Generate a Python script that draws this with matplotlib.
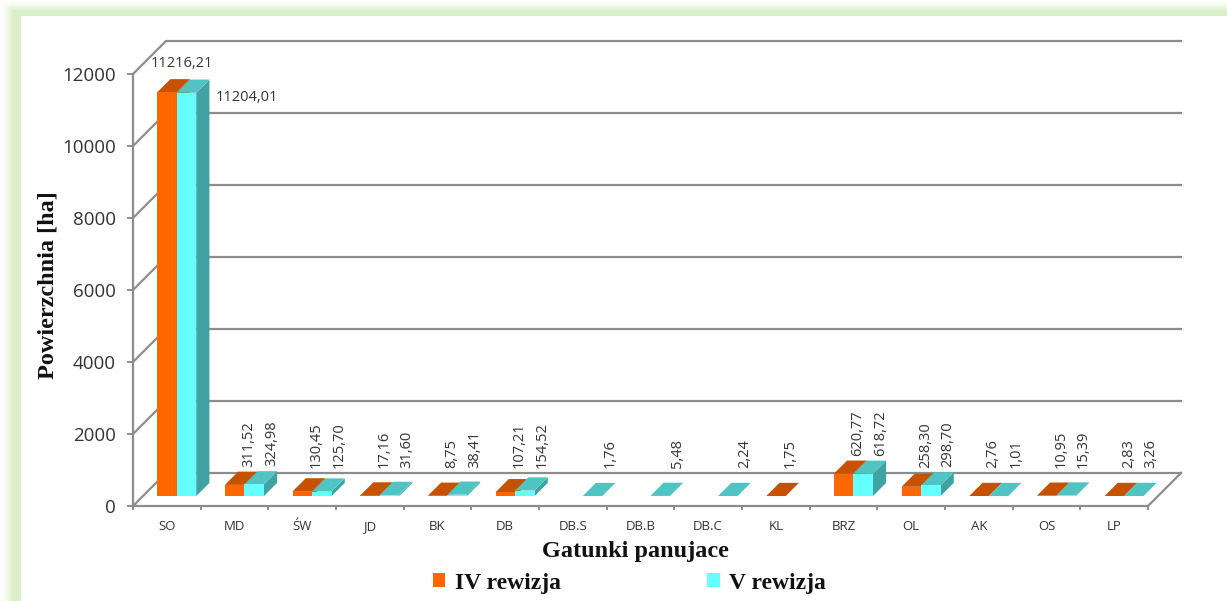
import matplotlib
matplotlib.use('Agg')
import matplotlib.pyplot as plt
from matplotlib.patches import Polygon, Rectangle, Patch

W, H = 1227, 601

categories = ['SO', 'MD', 'ŚW', 'JD', 'BK', 'DB', 'DB.S', 'DB.B', 'DB.C', 'KL',
              'BRZ', 'OL', 'AK', 'OS', 'LP']
rew_iv = [11216.21, 311.52, 130.45, 17.16, 8.75, 107.21, None, None, None, 1.75,
          620.77, 258.30, 2.76, 10.95, 2.83]
rew_v = [11204.01, 324.98, 125.70, 31.60, 38.41, 154.52, 1.76, 5.48, 2.24, None,
         618.72, 298.70, 1.01, 15.39, 3.26]
y_ticks = [0, 2000, 4000, 6000, 8000, 10000, 12000]
series_names = ['IV rewizja', 'V rewizja']

ORANGE = ('#FF6600', '#C65200', '#A84500')
CYAN = ('#66FFFF', '#4FC4C2', '#40A3A3')
GRID = '#8C8C8C'
TXT = '#333333'
SERIF = 'Liberation Serif'
SANS = 'Open Sans'

# plot box in pixels
LEFT, RIGHT, TOP, BOTTOM = 133, 1148, 74, 506
DEPTH_PX = 33
DX = DEPTH_PX / ((RIGHT - LEFT) / len(categories))
DY = DEPTH_PX / ((BOTTOM - TOP) / 12000)
BAR_W = 19.5 / ((RIGHT - LEFT) / len(categories))
LABEL_FLOOR = 278  # small bars keep their labels at one height


def project(x, y, d):
    # d is depth into the fake 3d box, 0 = front, 1 = back wall
    return x + d * DX, y + d * DY


def draw_bar(ax, x0, value, colors, z):
    d0, d1 = 0.3, 0.7
    x1 = x0 + BAR_W
    front = [project(x0, 0, d0), project(x1, 0, d0), project(x1, value, d0), project(x0, value, d0)]
    side = [project(x1, 0, d0), project(x1, 0, d1), project(x1, value, d1), project(x1, value, d0)]
    top = [project(x0, value, d0), project(x1, value, d0), project(x1, value, d1), project(x0, value, d1)]
    for pts, col in zip((side, top, front), (colors[2], colors[1], colors[0])):
        ax.add_patch(Polygon(pts, closed=True, facecolor=col, edgecolor='none', clip_on=False, zorder=z))


def fmt(v):
    return f'{v:.2f}'.replace('.', ',')


fig = plt.figure(figsize=(W / 100, H / 100), dpi=100)

# green glow frame behind the chart
bg = fig.add_axes([0, 0, 1, 1])
bg.set_xlim(0, W)
bg.set_ylim(H, 0)
bg.axis('off')
steps = 14
for i in range(steps):
    t = i / (steps - 1)
    s = min(1, t * 1.7) ** 1.5
    col = (1 - s * (1 - 0.855), 1 - s * (1 - 0.937), 1 - s * (1 - 0.780))
    bg.add_patch(Rectangle((21 * t, 16 * t), W + 50, H + 50, facecolor=col, edgecolor='none'))
bg.add_patch(Rectangle((21, 16), W, H, facecolor='white', edgecolor='none'))

ax = fig.add_axes([LEFT / W, 1 - BOTTOM / H, (RIGHT - LEFT) / W, (BOTTOM - TOP) / H])
ax.patch.set_alpha(0)
ax.set_xlim(0, len(categories))
ax.set_ylim(0, 12000)

for s in ('top', 'right'):
    ax.spines[s].set_visible(False)
for s in ('left', 'bottom'):
    ax.spines[s].set_color(GRID)
    ax.spines[s].set_linewidth(1.6)

# walls and floor
n = len(categories)
for val in y_ticks:
    xs, ys = zip(project(0, val, 0), project(0, val, 1), project(n, val, 1))
    ax.plot(xs, ys, color=GRID, lw=1.6, clip_on=False, zorder=1, solid_joinstyle='miter')
xs, ys = zip(project(n, 0, 0), project(n, 0, 1))
ax.plot(xs, ys, color=GRID, lw=1.6, clip_on=False, zorder=1)

ax.set_yticks(y_ticks)
ax.set_xticks(range(n + 1))
ax.set_xticklabels([])
ax.set_xticks([i + 0.5 for i in range(n)], minor=True)
ax.set_xticklabels(categories, minor=True, fontsize=9.5, family=SANS, color=TXT)
ax.tick_params(axis='x', which='major', length=3, width=1.4, color=GRID)
ax.tick_params(axis='x', which='minor', length=0, pad=10)
ax.tick_params(axis='y', length=4.5, width=1.4, color=GRID, pad=8, labelsize=13.5, labelcolor=TXT)
for lab in ax.get_yticklabels():
    lab.set_family(SANS)

# bars, drawn left to right so the later ones sit on top
for i in range(n):
    if rew_iv[i] is not None:
        draw_bar(ax, i + 0.5 - BAR_W, rew_iv[i], ORANGE, 3 + i)
    if rew_v[i] is not None:
        draw_bar(ax, i + 0.5, rew_v[i], CYAN, 3 + i)

# value labels
for i in range(1, n):
    for val, x0, off in ((rew_iv[i], i + 0.5 - BAR_W, 24), (rew_v[i], i + 0.5, 27)):
        if val is None:
            continue
        px, py = project(x0 + BAR_W / 2, max(val, LABEL_FLOOR), 0.7)
        ax.annotate(fmt(val), (px, py), xytext=((off - 23) * 0.72, 3.6), textcoords='offset points',
                    rotation=90, ha='center', va='bottom', fontsize=10.5, family=SANS, color=TXT,
                    annotation_clip=False, zorder=30)

# the two big SO bars carry their labels flat
px, py = project(0.5 - BAR_W / 2, rew_iv[0], 0.7)
ax.annotate(fmt(rew_iv[0]), (px, py), xytext=(1.5, 6), textcoords='offset points', ha='center', va='bottom',
            fontsize=10.5, family=SANS, color=TXT, annotation_clip=False, zorder=30)
px, py = project(0.5 + BAR_W, rew_v[0], 0.7)
ax.annotate(fmt(rew_v[0]), (px, py), xytext=(4.5, -13), textcoords='offset points', ha='left', va='center',
            fontsize=10.5, family=SANS, color=TXT, annotation_clip=False, zorder=30)

fig.text(635 / W, 1 - 551 / H, 'Gatunki panujace', family=SERIF, weight='bold', fontsize=17.5,
         ha='center', va='center', color='#111111')
fig.text(48.5 / W, 1 - 285 / H, 'Powierzchnia [ha]', family=SERIF, weight='bold', fontsize=17.5,
         rotation=90, ha='center', va='center', color='#111111')

handles = [Patch(facecolor=ORANGE[0], edgecolor='none'), Patch(facecolor=CYAN[0], edgecolor='none')]
leg = fig.legend(handles, series_names, loc='center', bbox_to_anchor=(629.5 / W, 1 - 583 / H), ncols=2,
                 frameon=False, handlelength=0.52, handleheight=0.52, handletextpad=0.42, columnspacing=6.2,
                 prop={'family': SERIF, 'weight': 'bold', 'size': 17}, borderpad=0, borderaxespad=0)
for t in leg.get_texts():
    t.set_color('#111111')

fig.savefig('out.png', dpi=100)
